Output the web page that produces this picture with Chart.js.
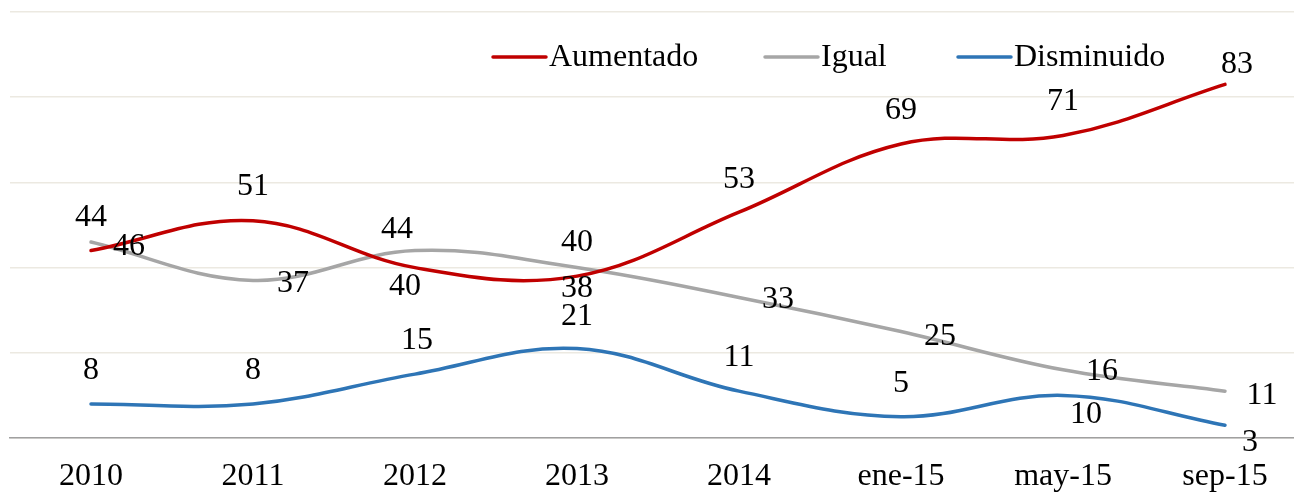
<!DOCTYPE html>
<html>
<head>
<meta charset="utf-8">
<script src="https://cdn.jsdelivr.net/npm/chart.js@4"></script>
<style>
  html, body { margin:0; padding:0; background:#fff; overflow:hidden; }
  #wrap { position:relative; width:1310px; height:492px; }
</style>
</head>
<body>
<div id="wrap"><canvas id="c"></canvas></div>
<script>
const labels     = ['2010','2011','2012','2013','2014','ene-15','may-15','sep-15'];
const aumentado  = [44, 51, 40, 38, 53, 69, 71, 83];
const igual      = [46, 37, 44, 40, 33, 25, 16, 11];
const disminuido = [8, 8, 15, 21, 11, 5, 10, 3];
const yTicks     = [0, 20, 40, 60, 80, 100];

// label offsets (dx, dy) relative to each point, as placed in the original
const posAum = [[0,-34],[0,-35],[-10,18],[0,11],[0,-34],[0,-34],[0,-35],[12,-21]];
const posIgu = [[38,4],[40,2],[-18,-22],[0,-26],[39,1],[39,4],[39,1],[37,3]];
const posDis = [[0,-34],[0,-34],[2,-35],[0,-33],[0,-35],[0,-34],[23,18],[25,16]];
const legendX = [493, 765, 958];

const FONT = "'Liberation Serif', 'Times New Roman', serif";
const SIZE = 32;
const RED = '#c00000', GRAY = '#a6a6a6', BLUE = '#2e75b6';

const labelPlugin = {
  id: 'valueLabels',
  afterDatasetsDraw(chart) {
    const ctx = chart.ctx;
    ctx.save();
    ctx.font = SIZE + 'px ' + FONT;
    ctx.fillStyle = '#000';
    ctx.textAlign = 'center';
    ctx.textBaseline = 'middle';
    chart.data.datasets.forEach((ds, i) => {
      const meta = chart.getDatasetMeta(i);
      meta.data.forEach((pt, j) => {
        const o = ds.labelPos[j];
        ctx.fillText(String(ds.data[j]), pt.x + o[0], pt.y + o[1] + 1);
      });
    });
    ctx.restore();
  }
};

const legendPlugin = {
  id: 'lineLegend',
  afterDraw(chart) {
    const ctx = chart.ctx;
    ctx.save();
    ctx.font = SIZE + 'px ' + FONT;
    ctx.textBaseline = 'middle';
    ctx.textAlign = 'left';
    const y = 57;
    chart.data.datasets.forEach((ds, i) => {
      const x = legendX[i];
      ctx.strokeStyle = ds.borderColor;
      ctx.lineWidth = 3.5;
      ctx.lineCap = 'round';
      ctx.beginPath(); ctx.moveTo(x, y); ctx.lineTo(x + 53, y); ctx.stroke();
      ctx.fillStyle = '#000';
      ctx.fillText(ds.label, x + 56, y + 1);
    });
    ctx.restore();
  }
};

const mk = (label, data, color, pos) => ({
  label, data, labelPos: pos,
  borderColor: color, backgroundColor: color,
  borderWidth: 3.5, pointRadius: 0, tension: 0.38, fill: false,
  borderCapStyle: 'round'
});

new Chart(document.getElementById('c'), {
  type: 'line',
  data: {
    labels,
    datasets: [
      mk('Aumentado', aumentado, RED, posAum),
      mk('Igual', igual, GRAY, posIgu),
      mk('Disminuido', disminuido, BLUE, posDis),
    ],
  },
  options: {
    responsive: true, maintainAspectRatio: false, animation: false,
    layout: { padding: { left: 10, right: 4, top: 12, bottom: 0 } },
    plugins: { legend: { display: false }, tooltip: { enabled: false } },
    scales: {
      x: {
        offset: true,
        grid: { display: false, drawTicks: false },
        border: { display: true, color: '#a0a0a0', width: 1.5 },
        ticks: { color: '#000', font: { family: FONT, size: SIZE }, padding: 19, maxRotation: 0, autoSkip: false },
        afterFit: axis => { axis.height = 54; },
      },
      y: {
        min: 0, max: 100,
        afterBuildTicks: axis => { axis.ticks = yTicks.map(v => ({ value: v })); },
        grid: { color: '#ece9e1', lineWidth: 1.5, drawTicks: false },
        border: { display: false },
        ticks: { display: false },
      },
    },
  },
  plugins: [labelPlugin, legendPlugin],
});
</script>
</body>
</html>
